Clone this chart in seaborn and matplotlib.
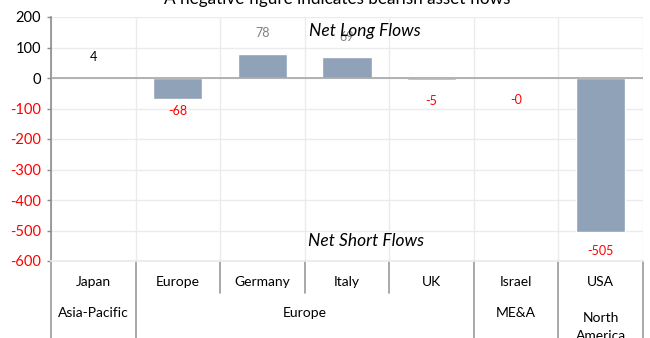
import matplotlib
matplotlib.use("Agg")
import matplotlib.pyplot as plt
import seaborn as sns
import pandas as pd
from matplotlib.lines import Line2D

# Data
countries = ["Japan", "Europe", "Germany", "Italy", "UK", "Israel", "USA"]
regions = ["Asia-Pacific", "Europe", "ME&A", "North\nAmerica"]
region_spans = [(0, 1), (1, 5), (5, 6), (6, 7)]
flows = [4, -68, 78, 69, -5, -0.3, -505]
flow_labels = ["4", "-68", "78", "69", "-5", "-0", "-505"]
label_y = [69, -108, 147, 134, -75, -72, -567]
yticks = [200, 100, 0, -100, -200, -300, -400, -500, -600]

sns.set_theme(style="white")
plt.rcParams["font.family"] = ["Lato", "DejaVu Sans"]

fig = plt.figure(figsize=(6.5, 3.38), dpi=100)
ax = fig.add_axes([51 / 650, (338 - 261) / 338, (643 - 51) / 650, 244 / 338])

df = pd.DataFrame({"slot": list(range(len(countries))), "flow": flows})
sns.barplot(data=df, x="slot", y="flow", color="#8FA2B8", saturation=1,
            width=0.58, ax=ax, zorder=3)

ax.set_xlim(-0.5, len(countries) - 0.5)
ax.set_ylim(-600, 200)
ax.set_xlabel("")
ax.set_ylabel("")
ax.set_xticks([])

# grid
grid_c = "#EBEBEB"
for y in yticks:
    ax.axhline(y, color=grid_c, lw=1, zorder=0)
for i in range(len(countries) + 1):
    ax.axvline(i - 0.5, color=grid_c, lw=1, zorder=0)
ax.axhline(0, color="#A6A6A6", lw=1.2, zorder=4)

for s in ["top", "right"]:
    ax.spines[s].set_visible(False)
ax.spines["bottom"].set_color(grid_c)
ax.spines["left"].set_color("#8C8C8C")
ax.spines["left"].set_linewidth(1.2)

ax.set_yticks(yticks)
ax.set_yticklabels([str(t) for t in yticks], fontsize=10.5)
ax.tick_params(axis="y", length=3, width=1, color="#8C8C8C", pad=4, left=True)
for lbl, t in zip(ax.get_yticklabels(), yticks):
    lbl.set_color("#FF0000" if t < 0 else "#000000")

# value labels
for i, (v, s, y) in enumerate(zip(flows, flow_labels, label_y)):
    if v >= 0:
        c = "#000000" if i == 0 else "#808080"
    else:
        c = "#FF0000"
    ax.text(i, y, s, ha="center", va="center", fontsize=9, color=c, zorder=5)

ax.text(3.21, 155, "Net Long Flows", ha="center", va="center", fontsize=12.5,
        style="italic", color="#000000", zorder=6)
ax.text(3.22, -535, "Net Short Flows", ha="center", va="center", fontsize=12.5,
        style="italic", color="#000000", zorder=6)

# category axis: two label rows with separators
sep_c = "#9A9A9A"
row1_y = -21 / 244
row2_y = -52 / 244
short_end = -32 / 244
full_end = -80 / 244
to_ax = ax.get_xaxis_transform()
for i, name in enumerate(countries):
    ax.text(i, row1_y, name, transform=to_ax, ha="center", va="center",
            fontsize=10, color="#000000", clip_on=False)
full_seps = {-0.5}
for (a, b), name in zip(region_spans, regions):
    full_seps.add(a - 0.5)
    full_seps.add(b - 0.5)
    if "\n" in name:
        ax.text((a + b - 1) / 2, row2_y + 0.004, name, transform=to_ax, ha="center",
                va="top", fontsize=10, color="#000000", clip_on=False,
                linespacing=1.55)
        continue
    ax.text((a + b - 1) / 2, row2_y, name, transform=to_ax, ha="center",
            va="center", fontsize=10, color="#000000", clip_on=False)
for i in range(len(countries) + 1):
    x = i - 0.5
    end = full_end if x in full_seps else short_end
    ax.add_line(Line2D([x, x], [0, end], transform=to_ax, color=sep_c,
                       lw=1.2, clip_on=False))

fig.text(337 / 650, (338 - 4) / 338, "A negative figure indicates bearish asset flows",
         ha="center", va="baseline", fontsize=12.3, color="#000000")

fig.savefig("out.png", dpi=100)
